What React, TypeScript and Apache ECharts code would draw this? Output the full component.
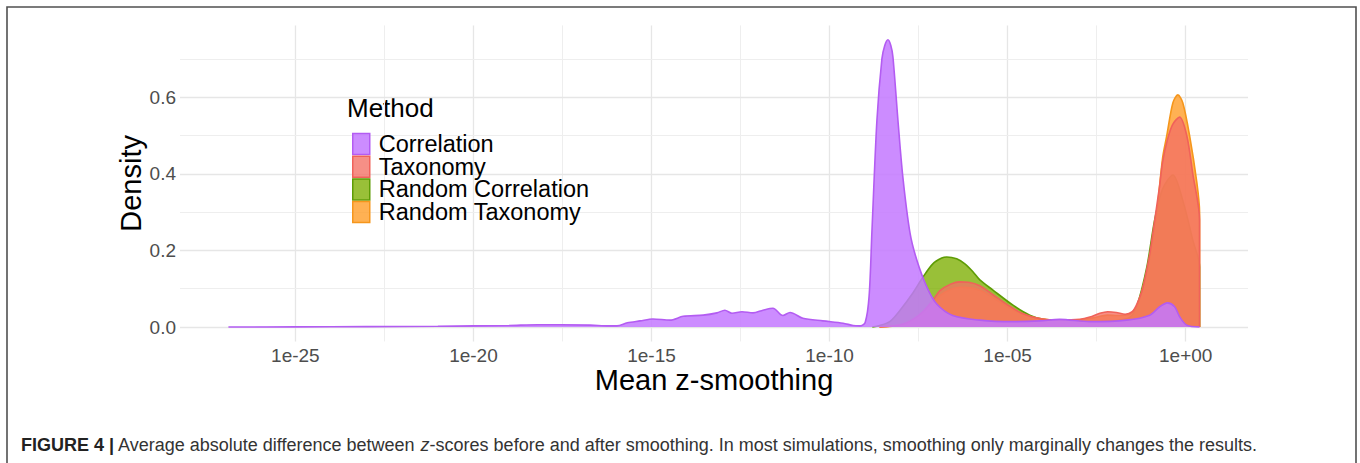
import React, { useEffect, useRef } from "react";
import * as echarts from "echarts";

// ---- data (x = log10 of mean z-smoothing, y = density) ----
const methods = ["Correlation", "Taxonomy", "Random Correlation", "Random Taxonomy"];

const correlation: [number, number][] = [
  [-26.88, 0.0], [-25.0, 0.0005], [-23.0, 0.001], [-21.0, 0.002], [-20.0, 0.003],
  [-19.0, 0.004], [-18.2, 0.006], [-17.56, 0.006], [-16.72, 0.005], [-16.2, 0.003],
  [-15.97, 0.003], [-15.68, 0.011], [-15.32, 0.016], [-14.96, 0.021], [-14.48, 0.018],
  [-14.11, 0.028], [-13.55, 0.031], [-13.16, 0.037], [-12.94, 0.044], [-12.74, 0.036],
  [-12.46, 0.04], [-12.15, 0.037], [-11.87, 0.044], [-11.59, 0.049], [-11.31, 0.03],
  [-11.11, 0.038], [-10.75, 0.023], [-10.19, 0.016], [-9.62, 0.01], [-9.34, 0.004],
  [-9.15, 0.003], [-9.0, 0.012], [-8.89, 0.08], [-8.81, 0.25], [-8.67, 0.54],
  [-8.53, 0.7], [-8.45, 0.735], [-8.36, 0.75], [-8.28, 0.735], [-8.22, 0.705],
  [-8.08, 0.54], [-7.94, 0.39], [-7.74, 0.245], [-7.55, 0.175], [-7.27, 0.105],
  [-6.99, 0.06], [-6.54, 0.03], [-5.78, 0.018], [-4.85, 0.014], [-4.1, 0.016],
  [-3.54, 0.02], [-2.69, 0.014], [-1.66, 0.018], [-1.01, 0.031], [-0.73, 0.053],
  [-0.51, 0.063], [-0.31, 0.053], [-0.17, 0.027], [0.03, 0.005], [0.39, 0.0],
];

const taxonomy: [number, number][] = [
  [-8.6, 0.0], [-8.0, 0.006], [-7.66, 0.02], [-7.38, 0.04], [-7.1, 0.07],
  [-6.9, 0.095], [-6.6, 0.112], [-6.34, 0.118], [-6.1, 0.117], [-5.78, 0.108],
  [-5.42, 0.085], [-5.0, 0.058], [-4.6, 0.036], [-4.1, 0.022], [-3.54, 0.018],
  [-2.97, 0.02], [-2.69, 0.026], [-2.41, 0.036], [-2.19, 0.04], [-1.95, 0.038],
  [-1.7, 0.033], [-1.5, 0.04], [-1.37, 0.06], [-1.21, 0.1], [-1.01, 0.19],
  [-0.93, 0.24], [-0.73, 0.37], [-0.65, 0.43], [-0.51, 0.49], [-0.36, 0.53],
  [-0.17, 0.548], [0.03, 0.5], [0.2, 0.4], [0.39, 0.28], [0.39, 0.0],
];

const randomCorrelation: [number, number][] = [
  [-8.8, 0.0], [-8.59, 0.004], [-8.3, 0.015], [-8.02, 0.044], [-7.66, 0.089],
  [-7.38, 0.13], [-7.1, 0.165], [-6.85, 0.18], [-6.71, 0.183], [-6.43, 0.178],
  [-6.2, 0.165], [-5.98, 0.145], [-5.78, 0.123], [-5.42, 0.097], [-4.85, 0.057],
  [-4.38, 0.031], [-4.0, 0.02], [-3.5, 0.015], [-2.7, 0.014], [-2.0, 0.016],
  [-1.57, 0.025], [-1.37, 0.055], [-1.09, 0.157], [-0.87, 0.28], [-0.65, 0.36],
  [-0.36, 0.397], [-0.08, 0.33], [0.2, 0.227], [0.39, 0.157], [0.39, 0.0],
];

const randomTaxonomy: [number, number][] = [
  [-8.6, 0.0], [-8.0, 0.005], [-7.66, 0.017], [-7.38, 0.035], [-7.1, 0.06],
  [-6.9, 0.082], [-6.6, 0.098], [-6.34, 0.104], [-6.1, 0.103], [-5.78, 0.096],
  [-5.42, 0.077], [-5.0, 0.053], [-4.6, 0.034], [-4.1, 0.022], [-3.54, 0.018],
  [-2.97, 0.019], [-2.6, 0.024], [-2.2, 0.031], [-1.9, 0.03], [-1.6, 0.032],
  [-1.37, 0.055], [-1.21, 0.1], [-1.01, 0.18], [-0.81, 0.3], [-0.65, 0.44],
  [-0.53, 0.5], [-0.36, 0.585], [-0.22, 0.606], [-0.08, 0.585], [0.11, 0.5],
  [0.31, 0.38], [0.39, 0.3], [0.39, 0.0],
];

const xTicks = [-25, -20, -15, -10, -5, 0];
const xMinor = [-22.5, -17.5, -12.5, -7.5, -2.5];
const yTicks = [0, 0.2, 0.4, 0.6];
const yMinor = [0.1, 0.3, 0.5, 0.7];

const caption =
  "{b|FIGURE 4 |} Average absolute difference between {i|z}-scores before and after smoothing. In most simulations, smoothing only marginally changes the results.";

const FONT = "'Liberation Sans', Arial, Helvetica, sans-serif";

const styles: Record<string, { line: string; fill: string }> = {
  Correlation: { line: "#B35CF2", fill: "rgba(195,120,255,0.85)" },
  Taxonomy: { line: "#F0625A", fill: "rgba(244,112,100,0.78)" },
  "Random Correlation": { line: "#5E9C05", fill: "rgba(124,174,0,0.78)" },
  "Random Taxonomy": { line: "#F5961C", fill: "rgba(255,158,40,0.8)" },
};

const seriesData: Record<string, [number, number][]> = {
  Correlation: correlation,
  Taxonomy: taxonomy,
  "Random Correlation": randomCorrelation,
  "Random Taxonomy": randomTaxonomy,
};

const drawOrder = ["Random Correlation", "Random Taxonomy", "Taxonomy", "Correlation"];

function fmtX(v: number): string {
  if (v === 0) return "1e+00";
  const a = Math.abs(v);
  return (v < 0 ? "1e-" : "1e+") + (a < 10 ? "0" + a : String(a));
}

export default function App() {
  const ref = useRef<HTMLDivElement>(null);

  useEffect(() => {
    if (!ref.current) return;
    const chart = echarts.init(ref.current, null, { renderer: "svg" });

    const gridSeries = {
      name: "grid",
      type: "line",
      data: [],
      z: 0,
      silent: true,
      markLine: {
        silent: true,
        z: 0,
        symbol: "none",
        label: { show: false },
        animation: false,
        data: [
          ...xTicks.map((v) => ({ xAxis: v, lineStyle: { color: "#e6e6e6", width: 1.3, type: "solid" } })),
          ...xMinor.map((v) => ({ xAxis: v, lineStyle: { color: "#eeeeee", width: 1, type: "solid" } })),
          ...yTicks.map((v) => ({ yAxis: v, lineStyle: { color: "#e6e6e6", width: 1.3, type: "solid" } })),
          ...yMinor.map((v) => ({ yAxis: v, lineStyle: { color: "#eeeeee", width: 1, type: "solid" } })),
        ],
      },
    };

    const areaSeries = drawOrder.map((name, i) => ({
      name,
      type: "line",
      data: seriesData[name],
      smooth: 0.3,
      showSymbol: false,
      symbol: "none",
      z: 2 + i,
      lineStyle: { color: styles[name].line, width: 1.6 },
      itemStyle: { color: styles[name].line },
      areaStyle: { color: styles[name].fill, opacity: 1 },
    }));

    chart.setOption({
      animation: false,
      backgroundColor: "#ffffff",
      grid: { left: 180, right: 112, top: 25.4, bottom: 463 - 341.4, containLabel: false },
      xAxis: {
        type: "value",
        min: -28.24,
        max: 1.75,
        axisLine: { show: false },
        axisTick: { show: false },
        splitLine: { show: false },
        axisLabel: {
          customValues: xTicks,
          formatter: (v: number) => fmtX(v),
          color: "#4d4d4d",
          fontSize: 19,
          fontFamily: FONT,
          margin: 5,
        },
        name: "Mean z-smoothing",
        nameLocation: "middle",
        nameMoveOverlap: false,
        nameGap: 24,
        nameTextStyle: { fontSize: 29, color: "#000000", fontFamily: FONT },
      },
      yAxis: {
        type: "value",
        min: -0.0375,
        max: 0.7875,
        axisLine: { show: false },
        axisTick: { show: false },
        splitLine: { show: false },
        axisLabel: {
          customValues: yTicks,
          formatter: (v: number) => v.toFixed(1),
          color: "#4d4d4d",
          fontSize: 19,
          fontFamily: FONT,
          margin: 4,
        },
        name: "Density",
        nameLocation: "middle",
        nameMoveOverlap: false,
        nameRotate: 90,
        nameGap: 35,
        nameTextStyle: { fontSize: 29, color: "#000000", fontFamily: FONT },
      },
      legend: {
        show: true,
        orient: "vertical",
        left: 347,
        top: 127,
        itemWidth: 17,
        itemHeight: 21,
        itemGap: -1.3,
        icon: "rect",
        selectedMode: false,
        textStyle: { fontSize: 23.5, color: "#000000", fontFamily: FONT, lineHeight: 20, padding: [0, 0, 0, 4] },
        data: methods.map((m) => ({
          name: m,
          itemStyle: { color: styles[m].fill, borderColor: styles[m].line, borderWidth: 1.5 },
        })),
      },
      graphic: [
        {
          type: "rect",
          shape: { x: 7, y: 7, width: 1349, height: 480 },
          style: { fill: "none", stroke: "#505050", lineWidth: 1.6 },
          silent: true,
        },
        {
          type: "text",
          x: 347,
          y: 108,
          style: { text: "Method", font: `26px ${FONT}`, fill: "#000000", align: "left", verticalAlign: "middle" },
          silent: true,
        },
        {
          type: "text",
          x: 21,
          y: 445,
          style: {
            text: caption,
            font: `18px ${FONT}`,
            fill: "#333333",
            align: "left",
            verticalAlign: "middle",
            rich: {
              b: { fontWeight: "bold", fontSize: 18, fontFamily: FONT, fill: "#222222" },
              i: { fontStyle: "italic", fontSize: 18, fontFamily: FONT, fill: "#333333" },
            },
          },
          silent: true,
        },
      ],
      series: [gridSeries, ...areaSeries],
    });

    return () => chart.dispose();
  }, []);

  return (
    <div
      ref={ref}
      style={{ position: "absolute", left: 0, top: 0, width: 1360, height: 463, background: "#fff" }}
    />
  );
}
